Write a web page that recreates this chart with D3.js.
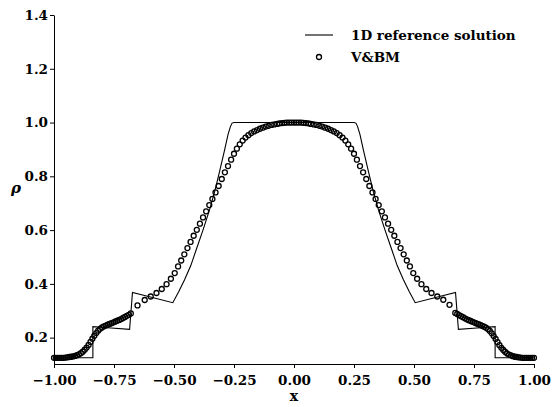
<!DOCTYPE html>
<html>
<head>
<meta charset="utf-8">
<script src="https://cdn.jsdelivr.net/npm/d3@7"></script>
<style>
  body { margin: 0; background: #fff; }
  svg text { font-family: "DejaVu Serif", serif; fill: #000; }
</style>
</head>
<body>
<svg id="chart"></svg>
<script>
// ticks
const xTicks = [-1.0, -0.75, -0.5, -0.25, 0.0, 0.25, 0.5, 0.75, 1.0];
const yTicks = [0.2, 0.4, 0.6, 0.8, 1.0, 1.2, 1.4];

// 1D reference solution
const refX = [-1.0, -0.838, -0.838, -0.762, -0.685, -0.673, -0.59, -0.505,
  -0.48, -0.456, -0.43, -0.4075, -0.38, -0.352, -0.33, -0.31, -0.29, -0.275, -0.265, -0.258, -0.25,
  0.25, 0.258, 0.265, 0.275, 0.29, 0.31, 0.33, 0.352, 0.38, 0.4075, 0.43, 0.456, 0.48,
  0.505, 0.59, 0.673, 0.685, 0.762, 0.838, 0.838, 1.0];
const refRho = [0.125, 0.125, 0.241, 0.236, 0.231, 0.368, 0.349, 0.330,
  0.372, 0.415, 0.468, 0.527, 0.598, 0.675, 0.745, 0.818, 0.895, 0.955, 0.985, 0.998, 1.0,
  1.0, 0.998, 0.985, 0.955, 0.895, 0.818, 0.745, 0.675, 0.598, 0.527, 0.468, 0.415, 0.372,
  0.330, 0.349, 0.368, 0.231, 0.236, 0.241, 0.125, 0.125];

// V&BM, left half
const vbmXLeft = [
  -1.000, -0.992, -0.984, -0.976, -0.968, -0.960, -0.952, -0.944, -0.936, -0.928,
  -0.920, -0.912, -0.904, -0.896, -0.888, -0.880, -0.872, -0.864, -0.856, -0.848,
  -0.840, -0.832, -0.824, -0.816, -0.808, -0.800, -0.792, -0.784, -0.776, -0.768,
  -0.760, -0.752, -0.744, -0.736, -0.728, -0.720, -0.712, -0.704, -0.696, -0.688,
  -0.680,
  -0.652, -0.622, -0.597, -0.573, -0.551, -0.531, -0.513, -0.497, -0.483, -0.470,
  -0.457, -0.444, -0.431, -0.418, -0.405, -0.392, -0.379, -0.366, -0.353, -0.340,
  -0.327, -0.314, -0.301, -0.288, -0.275, -0.262, -0.250, -0.238, -0.226, -0.214,
  -0.202, -0.190, -0.178, -0.166, -0.154, -0.142, -0.130, -0.118, -0.106, -0.094,
  -0.082, -0.070, -0.060, -0.050, -0.040, -0.030, -0.020, -0.010, 0.000];
const vbmRhoLeft = [
  0.125, 0.125, 0.125, 0.125, 0.125, 0.125, 0.126, 0.127, 0.128, 0.129,
  0.130, 0.132, 0.135, 0.138, 0.142, 0.148, 0.155, 0.163, 0.173, 0.184,
  0.196, 0.207, 0.217, 0.226, 0.233, 0.238, 0.242, 0.245, 0.248, 0.251,
  0.254, 0.257, 0.260, 0.263, 0.266, 0.269, 0.273, 0.277, 0.281, 0.285,
  0.290,
  0.320, 0.340, 0.353, 0.366, 0.381, 0.399, 0.419, 0.440, 0.465, 0.487,
  0.510, 0.533, 0.556, 0.579, 0.601, 0.624, 0.647, 0.670, 0.693, 0.716,
  0.740, 0.764, 0.790, 0.815, 0.838, 0.862, 0.884, 0.903, 0.919, 0.933,
  0.944, 0.953, 0.961, 0.967, 0.972, 0.977, 0.981, 0.985, 0.988, 0.991,
  0.993, 0.995, 0.997, 0.998, 0.999, 1.000, 1.000, 1.000, 1.000];

// V&BM, right half
const vbmXRight = [
  0.010, 0.020, 0.030, 0.040, 0.050, 0.060, 0.070, 0.082, 0.094, 0.106,
  0.118, 0.130, 0.142, 0.154, 0.166, 0.178, 0.190, 0.202, 0.214, 0.226,
  0.238, 0.250, 0.262, 0.275, 0.288, 0.301, 0.314, 0.327, 0.340, 0.353,
  0.366, 0.379, 0.392, 0.405, 0.418, 0.431, 0.444, 0.457, 0.470, 0.483,
  0.497, 0.513, 0.531, 0.551, 0.573, 0.597, 0.622, 0.648,
  0.672, 0.680, 0.688, 0.696, 0.704, 0.712, 0.720, 0.728, 0.736, 0.744,
  0.752, 0.760, 0.768, 0.776, 0.784, 0.792, 0.800, 0.808, 0.816, 0.824,
  0.832, 0.840, 0.848, 0.856, 0.864, 0.872, 0.880, 0.888, 0.896, 0.904,
  0.912, 0.920, 0.928, 0.936, 0.944, 0.952, 0.960, 0.968, 0.976, 0.984,
  0.992, 1.000];
const vbmRhoRight = [
  1.000, 1.000, 1.000, 0.999, 0.998, 0.997, 0.995, 0.993, 0.991, 0.988,
  0.985, 0.981, 0.977, 0.972, 0.967, 0.961, 0.953, 0.944, 0.933, 0.919,
  0.903, 0.884, 0.862, 0.838, 0.815, 0.790, 0.764, 0.740, 0.716, 0.693,
  0.670, 0.647, 0.624, 0.601, 0.579, 0.556, 0.533, 0.510, 0.487, 0.465,
  0.440, 0.419, 0.399, 0.381, 0.366, 0.353, 0.341, 0.322,
  0.292, 0.288, 0.284, 0.280, 0.276, 0.272, 0.268, 0.265, 0.262, 0.259,
  0.256, 0.253, 0.250, 0.247, 0.244, 0.241, 0.237, 0.232, 0.225, 0.216,
  0.206, 0.195, 0.183, 0.172, 0.162, 0.154, 0.147, 0.141, 0.137, 0.134,
  0.131, 0.129, 0.128, 0.127, 0.126, 0.125, 0.125, 0.125, 0.125, 0.125,
  0.125, 0.125];

const width = 552;
const height = 407;
const margin = {top: 15, right: 18, bottom: 43, left: 54};

const svg = d3.select("#chart")
              .attr("width", width)
              .attr("height", height);

const xScale = d3.scaleLinear()
                 .domain([-1, 1])
                 .range([margin.left, width - margin.right]);
const yScale = d3.scaleLinear()
                 .domain([0.102, 1.4])
                 .range([height - margin.bottom, margin.top]);

// axes, left and bottom only
const xAxis = svg.append("g")
                 .attr("transform", `translate(0,${height - margin.bottom})`)
                 .call(d3.axisBottom(xScale).tickValues(xTicks).tickSize(4).tickSizeOuter(0)
                   .tickFormat(d => d3.format(".2f")(d).replace("-", "\u2212")));
const yAxis = svg.append("g")
                 .attr("transform", `translate(${margin.left},0)`)
                 .call(d3.axisLeft(yScale).tickValues(yTicks).tickSize(4).tickSizeOuter(0)
                   .tickFormat(d3.format(".1f")));

[xAxis, yAxis].forEach(function(ax) {
  ax.select(".domain").attr("stroke", "#000").attr("stroke-width", 1);
  ax.selectAll(".tick line").attr("stroke", "#000").attr("stroke-width", 1);
  ax.selectAll(".tick text")
    .attr("font-family", "DejaVu Serif")
    .attr("font-size", 13.5)
    .attr("font-weight", "bold")
    .attr("fill", "#111");
});
xAxis.selectAll(".tick text").attr("dy", "1.05em");
yAxis.selectAll(".tick text").attr("x", -6);

// axis labels
svg.append("text")
   .attr("x", (xScale(-1) + xScale(1)) / 2)
   .attr("y", 401)
   .attr("text-anchor", "middle")
   .attr("font-size", 14)
   .attr("font-weight", "bold")
   .text("x");
svg.append("text")
   .attr("x", 16)
   .attr("y", 193)
   .attr("text-anchor", "middle")
   .attr("font-size", 15)
   .attr("font-style", "italic")
   .attr("font-weight", "bold")
   .text("\u03c1");

// reference line
const line = d3.line()
               .x(function(d) { return xScale(d[0]); })
               .y(function(d) { return yScale(d[1]); });

svg.append("path")
   .datum(refX.map((x, i) => [x, refRho[i]]))
   .attr("fill", "none")
   .attr("stroke", "#000")
   .attr("stroke-width", 1.1)
   .attr("d", line);

// V&BM markers
const vbm = vbmXLeft.map((x, i) => [x, vbmRhoLeft[i]])
  .concat(vbmXRight.map((x, i) => [x, vbmRhoRight[i]]));

svg.append("g").selectAll("circle")
   .data(vbm)
   .enter()
   .append("circle")
     .attr("cx", function(d) { return xScale(d[0]); })
     .attr("cy", function(d) { return yScale(d[1]); })
     .attr("r", 2.5)
     .attr("fill", "none")
     .attr("stroke", "#000")
     .attr("stroke-width", 1.3);

// legend
const legend = svg.append("g");
legend.append("line")
      .attr("x1", 305).attr("x2", 333)
      .attr("y1", 35).attr("y2", 35)
      .attr("stroke", "#000").attr("stroke-width", 1.1);
legend.append("text")
      .attr("x", 351).attr("y", 35).attr("dy", "0.35em")
      .attr("font-size", 13.5)
      .attr("font-weight", "bold")
      .attr("fill", "#111")
      .text("1D reference solution");
legend.append("circle")
      .attr("cx", 319).attr("cy", 57).attr("r", 2.5)
      .attr("fill", "none").attr("stroke", "#000").attr("stroke-width", 1.3);
legend.append("text")
      .attr("x", 351).attr("y", 57).attr("dy", "0.35em")
      .attr("font-size", 13.5)
      .attr("font-weight", "bold")
      .attr("fill", "#111")
      .text("V&BM");
</script>
</body>
</html>
